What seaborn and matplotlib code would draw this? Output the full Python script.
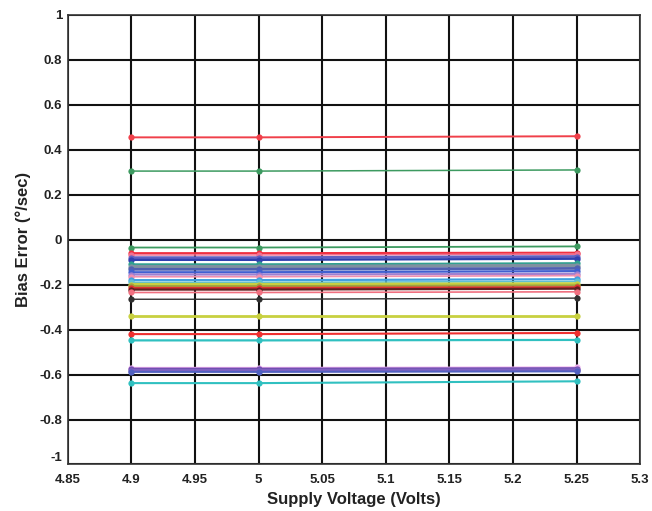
import numpy as np
import pandas as pd
import matplotlib
matplotlib.use("Agg")
import matplotlib.pyplot as plt
import seaborn as sns

voltage = [4.9, 5.0, 5.25]

bias_series = [
    [0.455, 0.455, 0.460],
    [0.305, 0.305, 0.310],
    [-0.035, -0.035, -0.030],
    [-0.060, -0.060, -0.058],
    [-0.068, -0.068, -0.065],
    [-0.080, -0.080, -0.075],
    [-0.090, -0.090, -0.085],
    [-0.110, -0.110, -0.105],
    [-0.120, -0.120, -0.115],
    [-0.132, -0.132, -0.128],
    [-0.145, -0.145, -0.140],
    [-0.155, -0.155, -0.152],
    [-0.165, -0.165, -0.160],
    [-0.180, -0.180, -0.176],
    [-0.190, -0.190, -0.186],
    [-0.200, -0.200, -0.197],
    [-0.207, -0.207, -0.204],
    [-0.215, -0.215, -0.212],
    [-0.222, -0.222, -0.218],
    [-0.235, -0.235, -0.232],
    [-0.265, -0.265, -0.260],
    [-0.340, -0.340, -0.340],
    [-0.420, -0.420, -0.415],
    [-0.448, -0.448, -0.446],
    [-0.570, -0.570, -0.568],
    [-0.577, -0.577, -0.575],
    [-0.583, -0.583, -0.580],
    [-0.588, -0.588, -0.586],
    [-0.638, -0.638, -0.630],
]

line_colors = [
    "#f0404a", "#3d9a60", "#3d9a60", "#f03040", "#f07090", "#6060c0",
    "#3040b0", "#30a090", "#8090a0", "#5060b0", "#4060d0", "#a080d0",
    "#f090b0", "#40a0e0", "#60c0d0", "#c8d040", "#a0a040", "#e03030",
    "#602020", "#f07080", "#303030", "#c8d040", "#f03030", "#30c0c0",
    "#f0b0f0", "#7050b0", "#8060c0", "#5060c0", "#30c0c0",
]
line_widths = [1.4, 1.1, 1.3, 1.5, 1.1, 2.0, 1.6, 1.6, 2.5, 2.0, 1.6, 1.6,
               1.2, 1.6, 1.2, 2.5, 1.6, 1.6, 1.6, 1.2, 1.0, 2.0, 1.5, 1.6,
               1.4, 2.5, 2.5, 1.4, 1.5]

x_ticks = [4.85, 4.9, 4.95, 5.0, 5.05, 5.1, 5.15, 5.2, 5.25, 5.3]
x_tick_labels = ["4.85", "4.9", "4.95", "5", "5.05", "5.1", "5.15", "5.2", "5.25", "5.3"]
y_ticks = [-1, -0.8, -0.6, -0.4, -0.2, 0, 0.2, 0.4, 0.6, 0.8, 1]
y_tick_labels = ["-1", "-0.8", "-0.6", "-0.4", "-0.2", "0", "0.2", "0.4", "0.6", "0.8", "1"]

rows = []
for i, vals in enumerate(bias_series):
    for v, b in zip(voltage, vals):
        rows.append({"unit": i, "voltage": v, "bias": b})
df = pd.DataFrame(rows)

sns.set_theme(style="white")
plt.rcParams["font.family"] = ["Liberation Sans", "DejaVu Sans"]

fig = plt.figure(figsize=(6.52, 5.11), dpi=100)
ax = fig.add_axes([0.104, 0.091, 0.878, 0.880])

for i in range(len(bias_series)):
    sub = df[df["unit"] == i]
    sns.lineplot(data=sub, x="voltage", y="bias", color=line_colors[i],
                 linewidth=line_widths[i], marker="o", markersize=4.5,
                 markeredgewidth=0, ax=ax, legend=False, zorder=3)

ax.set_xlim(4.85, 5.3)
ax.set_ylim(-1, 1)
ax.set_xticks(x_ticks)
ax.set_xticklabels(x_tick_labels)
ax.set_yticks(y_ticks)
ax.set_yticklabels(y_tick_labels)
ax.grid(True, color="#111111", linewidth=1.5)
ax.set_axisbelow(True)
for s in ax.spines.values():
    s.set_color("#333333")
    s.set_linewidth(1.2)
ax.tick_params(axis="x", labelsize=9.5, length=0, pad=7)
ax.tick_params(axis="y", labelsize=9.5, length=0, pad=4)
for lab in ax.get_xticklabels() + ax.get_yticklabels():
    lab.set_fontweight("bold")
    lab.set_color("#222222")
ax.get_yticklabels()[0].set_verticalalignment("bottom")
ax.set_xlabel("Supply Voltage (Volts)", fontsize=12, fontweight="bold", color="#222222", labelpad=4)
ax.set_ylabel("Bias Error (°/sec)", fontsize=12, fontweight="bold", color="#222222", labelpad=6)

fig.savefig("out.png", dpi=100)
